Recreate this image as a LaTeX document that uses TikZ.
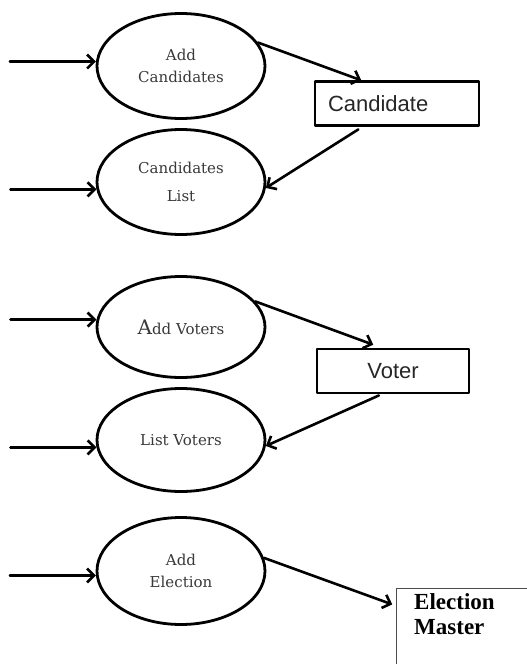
\documentclass[tikz,border=0pt]{standalone}
\usepackage{fontspec}
\setmainfont{Liberation Serif}
\newfontfamily\procfont{DejaVu Serif}
\newfontfamily\storefont{Liberation Sans}
\usetikzlibrary{arrows.meta,positioning,shapes.geometric}
\begin{document}
\begin{tikzpicture}[x=1pt,y=-1pt,line join=round,line cap=round,
  >={Straight Barb[length=7pt,width=14pt]},
  proc/.style={draw,ellipse,line width=2.8pt,minimum width=168pt,minimum height=105pt,inner sep=0pt,
    align=center,text=black!78,font=\procfont\fontsize{15}{22}\selectfont},
  store/.style={draw,line width=2.4pt,minimum height=44pt,text=black!85,font=\storefont\fontsize{22}{25}\selectfont},
  flow/.style={->,line width=2.6pt}]
  \useasboundingbox (0,0) rectangle (527,664);
  \clip (0,0) rectangle (527,664);
  % processes
  \node[proc] (ac) at (181,66) {Add\\Candidates};
  \node[proc] (cl) at (181,182) {Candidates\\[6pt]List};
  \node[proc,minimum height=101pt] (av) at (181,327) {{\fontsize{20}{22}\selectfont A}dd Voters};
  \node[proc,minimum height=103pt] (lv) at (181,440) {List Voters};
  \node[proc,minimum height=107pt] (ae) at (181,571) {Add\\Election};
  % data stores
  \node[store,text width=138pt,inner xsep=13pt,align=left] (cd) at (397,103.5) {Candidate};
  \node[store,minimum width=152pt,minimum height=44pt] (vt) at (393,371) {Voter};
  \node[draw=black!70,line width=0.8pt,anchor=north west,minimum width=200pt,minimum height=120pt] (em) at (396,588) {};
  \node[below right=5pt and 18pt of em.north west,inner sep=0pt,align=left,
    font=\bfseries\fontsize{23}{25}\selectfont] (emt) {Election\\Master};
  % inputs
  \foreach \n/\a in {ac/177,cl/185,av/175,lv/185,ae/183}{
    \coordinate (src-\n) at ([xshift=-86pt]\n.\a);
    \draw[flow] (src-\n) -- (\n.\a);
  }
  % flows
  \draw[flow] (ac.17) -- (cd.147);
  \draw[flow,shorten <=5pt] (cd.214) -- (cl.-4);
  \draw[flow,shorten >=9pt] (av.19) -- (vt.116);
  \draw[flow,shorten <=3pt] (vt.244) -- (lv.-4);
  \draw[flow,shorten >=4pt] (ae.9) -- (em.157);
\end{tikzpicture}
\end{document}
